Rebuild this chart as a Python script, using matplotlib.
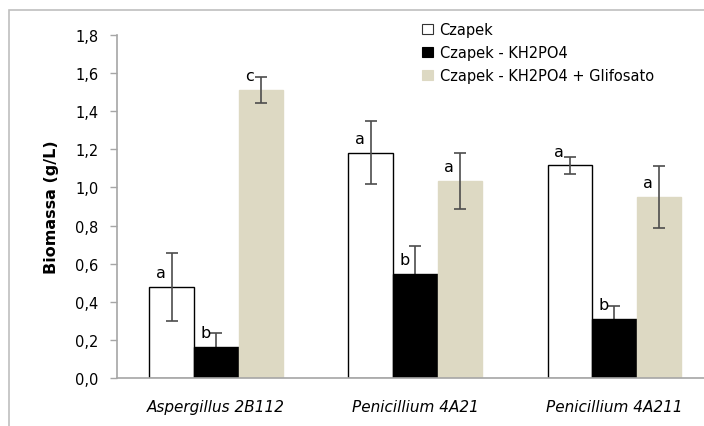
import numpy as np
import matplotlib
matplotlib.use('Agg')
import matplotlib.pyplot as plt
from matplotlib.patches import Rectangle, Patch

plt.rcParams['font.family'] = ['DejaVu Sans']

# datos
cepas = ['Aspergillus 2B112', 'Penicillium 4A21', 'Penicillium 4A211']
series = ['Czapek', 'Czapek - KH2PO4', 'Czapek - KH2PO4 + Glifosato']
czapek = [0.477, 1.182, 1.116]
czapek_err = [0.177, 0.165, 0.045]
sin_kh2po4 = [0.164, 0.547, 0.310]
sin_kh2po4_err = [0.070, 0.146, 0.068]
glifosato = [1.511, 1.034, 0.950]
glifosato_err = [0.070, 0.148, 0.162]
letras = [['a', 'a', 'a'], ['b', 'b', 'b'], ['c', 'a', 'a']]

yticks = np.arange(0, 1.81, 0.2)

fig = plt.figure(figsize=(7.04, 4.27), dpi=100)
ax = fig.add_axes([116.7 / 704, 48 / 427, 597.3 / 704, 343 / 427])

# borde exterior del grafico
fig.patches.append(Rectangle((9 / 704, -0.1), 1.2, (427 - 11) / 427 + 0.1,
                             transform=fig.transFigure, fill=False,
                             edgecolor='#BFBFBF', linewidth=1.2))

x = np.arange(len(cepas))
w = 0.224
valores = [czapek, sin_kh2po4, glifosato]
errores = [czapek_err, sin_kh2po4_err, glifosato_err]
colores = ['white', 'black', '#DDD9C3']
bordes = ['black', 'black', '#DDD9C3']

for i in range(3):
    pos = x + (i - 1) * w
    ax.bar(pos, valores[i], w, color=colores[i], edgecolor=bordes[i],
           linewidth=1.0, zorder=2)
    # en las barras negras la parte baja del error no se ve
    z = 1 if i == 1 else 3
    ax.errorbar(pos, valores[i], yerr=errores[i], fmt='none', ecolor='#4D4D4D',
                elinewidth=1.2, capsize=4, capthick=1.2, zorder=z)
    for j in range(3):
        ax.text(pos[j] - 0.055, valores[i][j] + 0.075, letras[i][j],
                ha='center', va='center', fontsize=11.5, color='black', zorder=4)

ax.set_xlim(-0.5, 2.5)
ax.set_ylim(0, 1.8)
ax.set_yticks(yticks)
ax.set_yticklabels([('%.1f' % t).replace('.', ',') for t in yticks], fontsize=10.5)
ax.set_xticks(x)
ax.set_xticklabels(cepas, fontsize=11, style='italic')
ax.tick_params(axis='x', length=0, pad=15)
ax.tick_params(axis='y', length=5, width=1, color='#A6A6A6', pad=8)
ax.set_ylabel('Biomassa (g/L)', fontsize=11.5, fontweight='bold', labelpad=12)

for s in ['top', 'right']:
    ax.spines[s].set_visible(False)
for s in ['left', 'bottom']:
    ax.spines[s].set_color('#A6A6A6')
    ax.spines[s].set_linewidth(1.2)

handles = [Patch(facecolor=colores[i], edgecolor='#333333' if i == 0 else colores[i],
                 linewidth=0.8) for i in range(3)]
fig.legend(handles, series, loc='upper left', bbox_to_anchor=(422 / 704, 1 - 23 / 427),
           frameon=False, fontsize=10.5, handlelength=0.75, handleheight=0.75,
           handletextpad=0.45, labelspacing=0.55, borderaxespad=0, borderpad=0)

fig.savefig('out.png', dpi=100)
